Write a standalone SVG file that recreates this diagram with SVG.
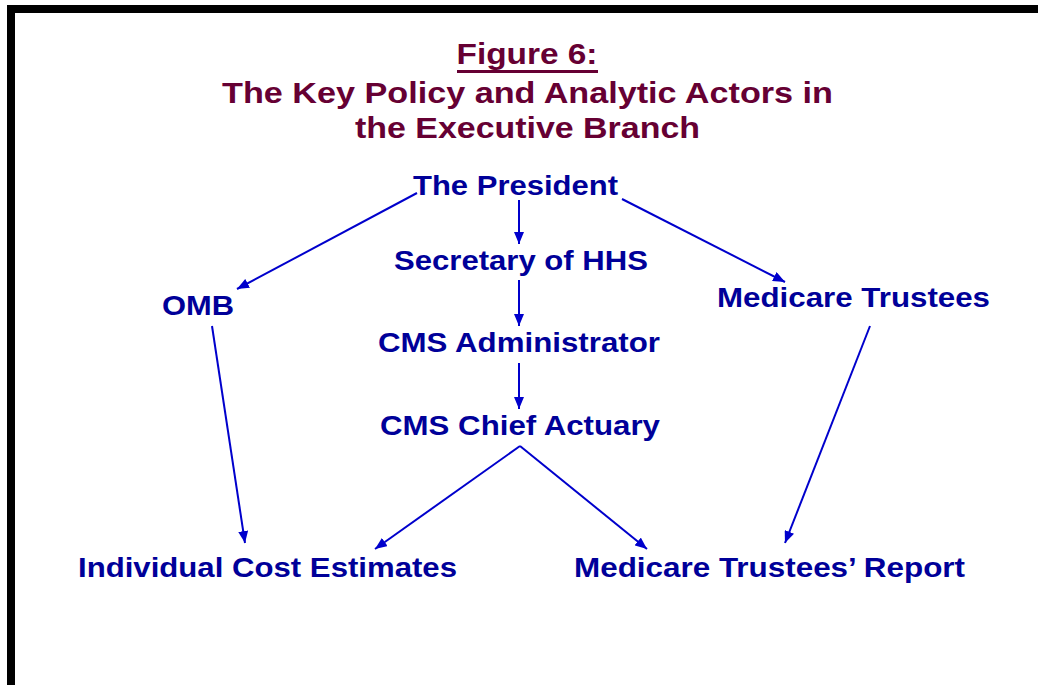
<svg xmlns="http://www.w3.org/2000/svg" width="1038" height="685" viewBox="0 0 1038 685">
  <style>
    .title { font-family: "Liberation Sans", Arial, sans-serif; font-weight: bold; font-size: 29px; fill: #660033; text-anchor: middle; }
    .node { font-family: "Liberation Sans", Arial, sans-serif; font-weight: bold; font-size: 28px; fill: #000099; text-anchor: middle; }
    .link { stroke: #0000CC; stroke-width: 2; fill: none; marker-end: url(#arrow); }
  </style>
  <defs>
    <marker id="arrow" markerUnits="userSpaceOnUse" markerWidth="12" markerHeight="10" viewBox="0 0 12 10" refX="12" refY="5" orient="auto">
      <path d="M0,0 L12,5 L0,10 Z" fill="#0000CC"/>
    </marker>
  </defs>

  <rect width="1038" height="685" fill="#ffffff"/>
  <!-- frame: black bars along the top and left edges -->
  <rect x="7" y="5" width="1031" height="8" fill="#000000"/>
  <rect x="7" y="5" width="8" height="680" fill="#000000"/>

  <!-- heading -->
  <g id="title">
    <text class="title" x="527" y="64" textLength="141" lengthAdjust="spacingAndGlyphs">Figure 6:</text>
    <rect x="457" y="70" width="141" height="3" fill="#660033"/>
    <text class="title" x="527.5" y="103" textLength="611" lengthAdjust="spacingAndGlyphs">The Key Policy and Analytic Actors in</text>
    <text class="title" x="527.5" y="138" textLength="345" lengthAdjust="spacingAndGlyphs">the Executive Branch</text>
  </g>

  <g id="connectors">
    <line class="link" x1="417" y1="193" x2="237" y2="289"/>
    <line class="link" x1="622" y1="199" x2="785" y2="282"/>
    <line class="link" x1="519" y1="200" x2="519" y2="244"/>
    <line class="link" x1="519" y1="280" x2="519" y2="326"/>
    <line class="link" x1="519" y1="363" x2="519" y2="409"/>
    <line class="link" x1="520" y1="446" x2="375" y2="549"/>
    <line class="link" x1="520" y1="446" x2="647" y2="549"/>
    <line class="link" x1="212" y1="326" x2="245" y2="543"/>
    <line class="link" x1="870" y1="326" x2="785" y2="543"/>
  </g>

  <g id="president"><text class="node" x="515.5" y="195" textLength="205" lengthAdjust="spacingAndGlyphs">The President</text></g>
  <g id="secretary-hhs"><text class="node" x="521" y="270" textLength="254" lengthAdjust="spacingAndGlyphs">Secretary of HHS</text></g>
  <g id="omb"><text class="node" x="198" y="315" textLength="72" lengthAdjust="spacingAndGlyphs">OMB</text></g>
  <g id="medicare-trustees"><text class="node" x="853.5" y="307" textLength="273" lengthAdjust="spacingAndGlyphs">Medicare Trustees</text></g>
  <g id="cms-administrator"><text class="node" x="519" y="352" textLength="282" lengthAdjust="spacingAndGlyphs">CMS Administrator</text></g>
  <g id="cms-chief-actuary"><text class="node" x="520" y="435" textLength="280" lengthAdjust="spacingAndGlyphs">CMS Chief Actuary</text></g>
  <g id="cost-estimates"><text class="node" x="267.5" y="577" textLength="379" lengthAdjust="spacingAndGlyphs">Individual Cost Estimates</text></g>
  <g id="trustees-report"><text class="node" x="769.5" y="577" textLength="391" lengthAdjust="spacingAndGlyphs">Medicare Trustees’ Report</text></g>
</svg>
